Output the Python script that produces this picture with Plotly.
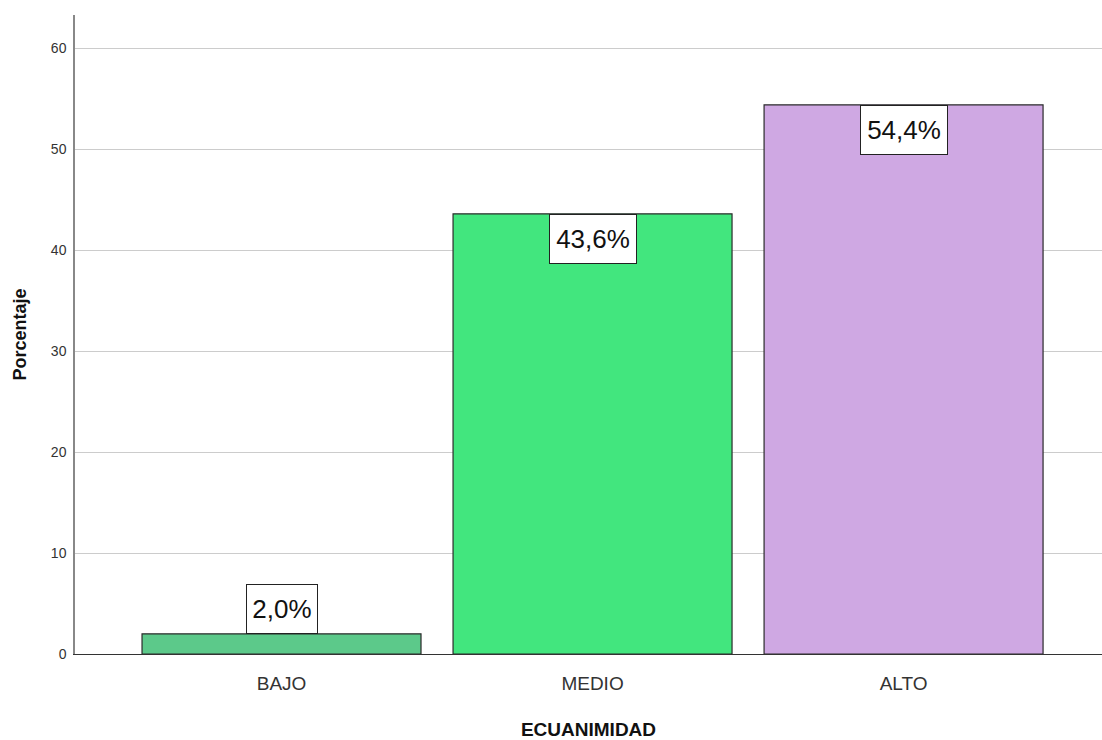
import plotly.graph_objects as go

categories = ["BAJO", "MEDIO", "ALTO"]
percentages = [2.0, 43.6, 54.4]
labels = ["2,0%", "43,6%", "54,4%"]
bar_colors = ["#5CC98A", "#42E67E", "#CFA8E3"]
y_ticks = [0, 10, 20, 30, 40, 50, 60]

fig = go.Figure()
fig.add_trace(go.Bar(
    x=categories,
    y=percentages,
    width=0.897,
    marker=dict(color=bar_colors, line=dict(color="#2b2b2b", width=1.2)),
    hoverinfo="skip",
))

# value labels in framed boxes: inside the bar top when tall, sitting on the bar when short
for cat, val, lab in zip(categories, percentages, labels):
    inside = val > 10
    fig.add_annotation(
        x=cat, y=val, text=lab, showarrow=False,
        yanchor="top" if inside else "bottom",
        font=dict(family="Arial", size=26, color="#111111"),
        width=84 if len(lab) > 4 else 68, height=46,
        bgcolor="white", bordercolor="#222222", borderwidth=1, borderpad=1,
    )

fig.update_layout(
    width=1102, height=740,
    margin=dict(l=75, r=0, t=15, b=86),
    plot_bgcolor="white", paper_bgcolor="white",
    showlegend=False,
    font=dict(family="Arial", color="#333333"),
)
fig.update_xaxes(
    range=[-0.664, 2.638],
    showline=True, linecolor="#333333", linewidth=1,
    ticks="outside", ticklen=12, tickcolor="rgba(0,0,0,0)",
    tickfont=dict(size=19, color="#333333"),
    title=dict(text="<b>ECUANIMIDAD</b>", font=dict(size=19, color="#111111"), standoff=32),
)
fig.update_yaxes(
    range=[0, 63.3], tickvals=y_ticks,
    showline=True, linecolor="#888888", linewidth=1.5,
    showgrid=True, gridcolor="#cccccc", gridwidth=1.2,
    zeroline=False,
    ticks="outside", ticklen=4, tickcolor="rgba(0,0,0,0)",
    tickfont=dict(size=14, color="#333333"),
    title=dict(text="<b>Porcentaje</b>", font=dict(size=18, color="#111111"), standoff=20),
)

fig.write_html("out.html")
